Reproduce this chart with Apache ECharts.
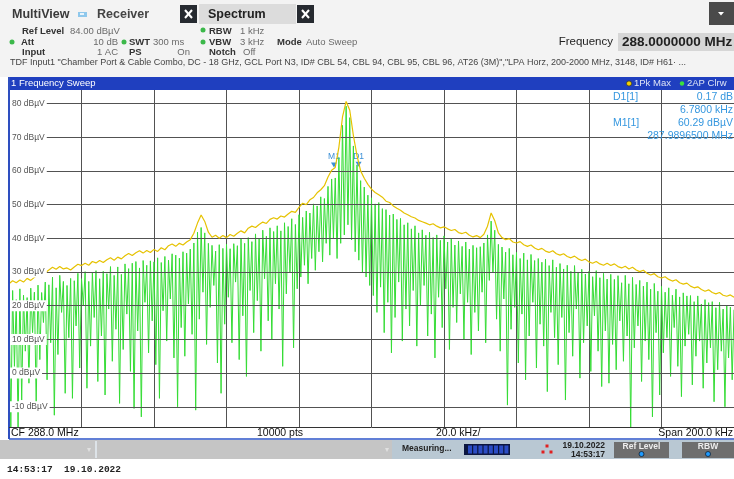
<!DOCTYPE html>
<html><head><meta charset="utf-8">
<script src="https://cdn.jsdelivr.net/npm/echarts@6/dist/echarts.min.js"></script>
<style>html,body{margin:0;padding:0;background:#fff}#c{width:734px;height:479px}</style>
</head><body><div id="c"></div>
<script>
// ---- data ----
const yTicks = [80, 70, 60, 50, 40, 30, 20, 10, 0, -10];
const freqStartKHz = -100;   // offset from CF 288.0 MHz
const freqStepKHz = 1;
// 1Pk Max (yellow) trace, dBµV, every 1 kHz from -100 to +100 kHz
const pkMax = [
 26.5,27.4,26.8,27.6,27.0,28.1,27.5,28.4,29.2,28.6,
 29.8,30.6,31.4,30.8,31.6,30.9,31.2,30.6,31.5,32.3,
 31.9,32.6,32.0,33.1,32.7,33.4,32.8,33.6,34.2,33.5,
 34.4,33.9,34.8,35.5,34.9,35.7,36.3,35.6,36.4,35.8,
 36.7,36.1,37.2,36.6,37.8,38.3,37.6,38.5,38.0,38.9,
 39.6,41.5,44.5,46.9,45.0,41.8,40.3,40.9,40.0,40.8,
 40.2,41.1,40.6,41.5,42.2,41.6,43.0,43.6,43.2,44.1,
 44.8,44.4,45.6,46.1,45.7,46.6,46.3,47.2,48.0,47.7,
 49.2,50.4,50.0,51.4,52.1,53.5,54.4,55.6,58.2,60.2,
 61.0,67.0,76.0,80.6,78.0,70.5,64.5,60.0,57.8,56.0,
 54.6,53.6,52.9,52.2,51.0,50.6,49.6,48.9,48.3,47.5,
 47.0,46.4,46.0,45.3,44.9,44.5,44.0,44.3,43.6,43.1,
 43.4,42.8,42.3,42.6,41.7,41.4,41.8,40.9,40.4,40.8,
 40.2,41.2,43.6,47.5,45.2,41.6,40.2,39.6,39.9,38.9,
 38.6,39.0,38.1,37.6,38.0,37.1,36.6,37.0,36.2,35.8,
 36.3,35.4,35.0,35.4,34.6,34.2,34.7,33.9,33.4,33.8,
 33.0,32.6,33.1,32.4,32.0,32.6,31.9,32.4,31.6,31.2,
 31.7,30.9,31.4,30.6,30.1,30.5,29.6,29.1,29.5,28.6,
 28.2,28.6,27.8,27.3,27.7,26.8,26.4,26.7,25.8,25.3,
 25.6,24.8,24.3,24.7,23.9,23.5,23.9,23.1,22.8,23.2,22.5
];
// 2AP Clrw (green) trace: local maxima at each kHz
const apTop = [
 22.0,24.5,21.8,25.0,23.1,22.4,25.2,24.0,26.1,23.9,
 27.0,26.2,28.5,25.3,29.0,27.2,26.0,28.1,27.4,29.6,
 28.0,30.1,27.2,29.8,30.4,28.0,30.2,29.5,31.6,29.0,
 31.5,29.3,32.4,31.0,32.6,33.1,31.2,33.4,32.0,33.3,
 33.0,34.2,32.8,34.6,33.5,35.4,35.0,34.1,36.0,35.6,
 36.8,38.6,41.8,43.2,41.6,38.5,37.9,36.2,38.1,37.0,
 38.2,36.9,38.4,37.8,39.9,38.5,40.2,39.0,41.3,40.0,
 42.4,40.6,43.1,42.0,43.7,42.2,44.6,43.5,45.8,44.1,
 47.0,46.2,48.1,47.5,50.2,49.6,52.3,51.8,55.4,57.6,
 57.9,64.0,73.5,79.2,75.8,67.4,61.8,57.1,55.2,52.8,
 52.0,50.2,50.6,48.8,48.5,46.9,47.2,45.6,45.9,44.0,
 44.6,42.8,43.7,41.6,42.5,40.9,41.8,40.2,41.0,39.4,
 40.7,38.9,39.8,38.0,39.2,37.6,38.9,36.8,37.9,37.2,
 37.5,38.6,41.0,45.1,42.4,38.2,37.4,35.9,37.0,35.1,
 35.8,34.0,35.6,33.6,35.2,33.4,34.0,32.9,33.8,31.9,
 33.6,31.4,32.5,30.9,32.0,30.2,31.9,30.0,30.8,29.4,
 30.2,28.6,30.4,28.3,29.6,27.9,29.3,27.8,28.9,26.8,
 29.0,26.5,28.4,26.3,27.5,25.8,27.0,24.9,26.6,24.3,
 25.7,24.0,25.3,23.1,24.9,22.6,23.8,22.9,23.0,21.2,
 22.9,20.5,21.8,20.9,21.2,19.4,21.0,19.0,20.1,19.6,18.8
];
// 2AP Clrw (green) trace: nulls half-way between maxima
const apDip = [
 -16,2.0,-16,-8.0,6.5,-3.0,12.0,-9.5,4.0,15.0,
 -2.0,9.0,-12.5,5.5,18.0,-6.0,10.5,-7.5,14.0,1.5,
 20.0,-4.5,8.0,16.5,-2.5,11.0,-6.5,19.0,3.5,13.0,
 -9.0,7.0,17.5,0.5,-10.5,12.5,-13.0,21.0,6.0,15.5,
 2.5,-7.5,18.5,9.5,22.0,4.5,-10.0,13.5,5.0,20.5,
 11.5,-11.0,16.0,24.0,8.5,19.5,26.0,3.0,-6.0,14.5,
 22.5,9.0,27.0,4.0,17.0,-1.0,24.5,12.0,21.5,6.5,
 28.0,15.5,10.0,26.5,19.0,2.0,23.5,30.0,7.5,25.0,
 28.5,32.0,26.5,34.0,30.5,36.0,33.0,38.5,35.0,40.0,
 34.0,38.5,41.0,44.0,39.5,36.0,33.5,30.0,28.5,26.0,
 23.0,18.0,25.5,12.0,21.0,6.0,16.5,27.0,9.5,19.0,
 14.0,24.5,8.0,20.0,26.0,11.0,17.5,4.5,22.5,13.5,
 25.0,7.0,19.5,15.0,23.5,10.0,21.0,5.5,18.0,12.5,
 24.0,9.0,27.5,30.0,16.0,6.5,22.0,-9.5,13.0,19.5,
 3.0,17.5,-2.0,11.0,21.0,1.5,14.5,8.0,-5.5,18.0,
 10.5,2.5,16.5,-8.0,12.0,5.0,19.0,-1.5,9.0,14.0,
 0.5,17.0,6.5,-4.0,12.5,-3.0,8.5,1.0,15.5,3.5,
 11.0,-16.0,7.5,14.0,-2.5,9.5,4.0,-13.0,12.0,-6.5,
 6.0,10.5,-1.0,13.5,2.0,-7.0,8.0,11.5,-3.5,5.0,
 9.5,-4.5,3.0,7.5,-8.5,1.0,6.5,-10.0,4.5,-2.0
];
const markerNames = ['M1', 'D1'];
const markerFreqKHz = [-10.35, -3.57];
const markerLevels = [60.29, 60.46];

// ---- build series data ----
const yellowData = pkMax.map((v, i) => [freqStartKHz + i * freqStepKHz, v]);
const greenData = [];
apTop.forEach((v, i) => {
  const f = freqStartKHz + i * freqStepKHz;
  greenData.push([f, v]);
  if (i < apDip.length) greenData.push([f + freqStepKHz / 2, apDip[i]]);
});

const FF = '"Liberation Sans", Arial, sans-serif';
const G = [];
function rect(x, y, w, h, fill, z) { G.push({ type: 'rect', silent: true, z: z || 0, shape: { x, y, width: w, height: h }, style: { fill } }); }
function txt(x, y, t, o) {
  o = o || {};
  const el = { type: 'text', silent: true, z: o.z || 1, x, y, style: {
    text: t, fill: o.c || '#333', fontSize: o.s || 10, fontWeight: o.b ? 'bold' : 'normal',
    fontFamily: o.f || FF, align: o.a || 'left', verticalAlign: 'middle',
    backgroundColor: o.bg, padding: o.p } };
  if (o.zl) el.zlevel = o.zl;
  G.push(el);
}
function ln(x1, y1, x2, y2, c, w, z) { G.push({ type: 'line', silent: true, z: z || 0, shape: { x1, y1, x2, y2 }, style: { stroke: c, lineWidth: w || 1 } }); }
function dot(cx, cy, r, c, z, stroke) { G.push({ type: 'circle', silent: true, z: z || 1, shape: { cx, cy, r }, style: { fill: c, stroke: stroke || null, lineWidth: stroke ? 0.8 : 0 } }); }

// header
rect(0, 0, 734, 77, '#f3f3f3');
txt(12, 15, 'MultiView', { b: 1, s: 12.5, c: '#3a3a3a' });
rect(78, 12, 9, 5, '#8fc8ec'); rect(80, 13, 4, 2, '#e8f4fc');
txt(97, 15, 'Receiver', { b: 1, s: 12.5, c: '#444' });
rect(180, 5, 17, 18, '#262a30');
ln(185, 10, 192, 18, '#fff', 2, 1); ln(192, 10, 185, 18, '#fff', 2, 1);
rect(199, 4, 97, 20, '#dcdcdc');
txt(208, 15, 'Spectrum', { b: 1, s: 12.5, c: '#222' });
rect(297, 5, 17, 18, '#262a30');
ln(302, 10, 309, 18, '#fff', 2, 1); ln(309, 10, 302, 18, '#fff', 2, 1);
rect(709, 2, 25, 23, '#4a4a4a');
G.push({ type: 'polygon', silent: true, z: 1, shape: { points: [[718, 12], [724, 12], [721, 15.5]] }, style: { fill: '#fff' } });

const lab = { b: 1, s: 9.5, c: '#333' }, val = { s: 9.5, c: '#6a6a6a' };
const valR = Object.assign({ a: 'right' }, val);
txt(22, 31, 'Ref Level', lab); txt(70, 31, '84.00 dBµV', val);
dot(203, 30, 2.5, '#3cb84a'); txt(209, 31, 'RBW', lab); txt(240, 31, '1 kHz', val);
dot(12, 42, 2.5, '#3cb84a'); txt(21, 42, 'Att', lab); txt(118, 42, '10 dB', valR);
dot(124, 42, 2.5, '#3cb84a'); txt(129, 42, 'SWT', lab); txt(153, 42, '300 ms', val);
dot(203, 42, 2.5, '#3cb84a'); txt(209, 42, 'VBW', lab); txt(240, 42, '3 kHz', val);
txt(277, 42, 'Mode', lab); txt(306, 42, 'Auto Sweep', val);
txt(22, 52, 'Input', lab); txt(118, 52, '1 AC', valR);
txt(129, 52, 'PS', lab); txt(190, 52, 'On', valR);
txt(209, 52, 'Notch', lab); txt(243, 52, 'Off', val);
txt(10, 63, 'TDF Input1 "Chamber Port & Cable Combo, DC - 18 GHz, GCL Port N3, ID# CBL 54, CBL 94, CBL 95, CBL 96, AT26 (3M)","LPA Horz, 200-2000 MHz, 3148, ID# H61\u00b7 ...', { s: 9, c: '#444' });
txt(613, 42, 'Frequency', { s: 11.5, c: '#222', a: 'right' });
rect(618, 33, 116, 18, '#d6d6d6');
txt(622, 42, '288.0000000 MHz', { b: 1, s: 13.5, c: '#222' });

// title bar
rect(8, 77, 726, 13, '#1f3fbf');
txt(11, 83.5, '1 Frequency Sweep', { s: 9.5, c: '#fff' });
dot(629, 83.5, 2.6, '#f2d000', 2, '#333');
txt(634, 83.5, '1Pk Max', { s: 9.5, c: '#dde3f5' });
dot(682, 83.5, 2.2, '#3ce03c', 2);
txt(687, 83.5, '2AP Clrw', { s: 9.5, c: '#dde3f5' });

// marker table
const mc = '#3597df';
txt(613, 97, 'D1[1]', { s: 10.5, c: mc, zl: 1 });
txt(733, 97, '0.17 dB', { s: 10.5, c: mc, a: 'right', zl: 1 });
txt(733, 110, '6.7800 kHz', { s: 10.5, c: mc, a: 'right', zl: 1 });
txt(613, 123, 'M1[1]', { s: 10.5, c: mc, zl: 1 });
txt(733, 123, '60.29 dBµV', { s: 10.5, c: mc, a: 'right', zl: 1 });
txt(733, 136, '287.9896500 MHz', { s: 10.5, c: mc, a: 'right', zl: 1 });

// plot frame + footer
ln(9, 77, 9, 439, '#2e4fc0', 2, 6);
ln(9, 427.5, 734, 427.5, '#333', 1, 6);
rect(10, 428, 724, 10.5, '#fff', 5);
txt(11, 433, 'CF 288.0 MHz', { s: 10.5, c: '#111', z: 6 });
txt(257, 433, '10000 pts', { s: 10.5, c: '#111', z: 6 });
txt(436, 433, '20.0 kHz/', { s: 10.5, c: '#111', z: 6 });
txt(733, 433, 'Span 200.0 kHz', { s: 10.5, c: '#111', a: 'right', z: 6 });
ln(9, 439, 734, 439, '#2c55c8', 1.5, 6);

// status bar
rect(0, 440, 392, 19, '#c5c5c5');
rect(392, 440, 342, 19, '#b9c8d3');
ln(96, 441, 96, 458, '#dde3e8', 2, 1);
txt(89, 450, '\u25be', { s: 8, c: '#e0e0e0', a: 'center' });
txt(387, 450, '\u25be', { s: 8, c: '#e0e0e0', a: 'center' });
txt(402, 449, 'Measuring...', { b: 1, s: 8.5, c: '#222' });
rect(464, 444, 46, 11, '#0c1640');
for (let i = 0; i < 8; i++) rect(468 + i * 5.2, 445.5, 4, 8, '#2a4cc4', 1);
rect(545.5, 444.5, 3, 3, '#e02020', 1); rect(541.5, 450.5, 3, 3, '#e02020', 1); rect(549.5, 450.5, 3, 3, '#e02020', 1);
txt(605, 446, '19.10.2022', { b: 1, s: 8.5, c: '#222', a: 'right' });
txt(605, 455, '14:53:17', { b: 1, s: 8.5, c: '#222', a: 'right' });
rect(614, 442, 55, 16, '#6e6e6e');
txt(641.5, 446.5, 'Ref Level', { b: 1, s: 8.5, c: '#eee', a: 'center' });
dot(641.5, 454, 2.5, '#1e9bff', 2, '#123');
rect(682, 442, 52, 16, '#6e6e6e');
txt(708, 446.5, 'RBW', { b: 1, s: 8.5, c: '#eee', a: 'center' });
dot(708, 454, 2.5, '#1e9bff', 2, '#123');

txt(7, 470, '14:53:17  19.10.2022', { b: 1, s: 9.5, c: '#222', f: '"Liberation Mono", "DejaVu Sans Mono", monospace' });

const chart = echarts.init(document.getElementById('c'), null, { renderer: 'canvas' });
const option = {
  animation: false,
  backgroundColor: '#fff',
  grid: { left: 9, top: 90, width: 725, height: 337, containLabel: false },
  xAxis: {
    type: 'value', min: -100, max: 100, interval: 20,
    axisLine: { show: false }, axisTick: { show: false }, axisLabel: { show: false },
    splitLine: { show: true, lineStyle: { color: '#525252', width: 1 } }
  },
  yAxis: {
    type: 'value', min: -16, max: 84,
    axisLine: { show: false }, axisTick: { show: false }, axisLabel: { show: false },
    splitLine: { show: false }
  },
  series: [
    {
      type: 'line', data: [], z: 1, silent: true,
      markLine: {
        silent: true, symbol: 'none', animation: false,
        label: { show: false },
        lineStyle: { color: '#525252', width: 1, type: 'solid' },
        data: yTicks.map(v => ({ yAxis: v }))
      }
    },
    {
      name: '2AP Clrw', type: 'line', data: greenData, z: 3, showSymbol: false, silent: true,
      lineStyle: { color: '#35dc35', width: 1 }
    },
    {
      name: '1Pk Max', type: 'line', data: yellowData, z: 5, showSymbol: false, silent: true,
      lineStyle: { color: '#e6c200', width: 1.2 },
      markPoint: {
        symbol: 'path://M0,0 L10,0 L5,8 Z', symbolSize: [6, 5], symbolOffset: [0, -5],
        itemStyle: { color: '#3a8fd6' },
        label: { show: true, position: 'top', distance: 1, color: '#3a8fd6', fontSize: 8.5, fontFamily: FF, formatter: p => p.name },
        data: markerNames.map((n, i) => ({ name: n, coord: [markerFreqKHz[i], markerLevels[i]] }))
      }
    }
  ]
};
chart.setOption(option);
yTicks.forEach(v => {
  const py = chart.convertToPixel({ yAxisIndex: 0 }, v);
  txt(10, py, v + ' dBµV', { s: 8.5, c: '#555', bg: '#fff', p: [1, 2, 1, 2], zl: 1 });
});
chart.setOption({ graphic: { elements: G } });
</script></body></html>
